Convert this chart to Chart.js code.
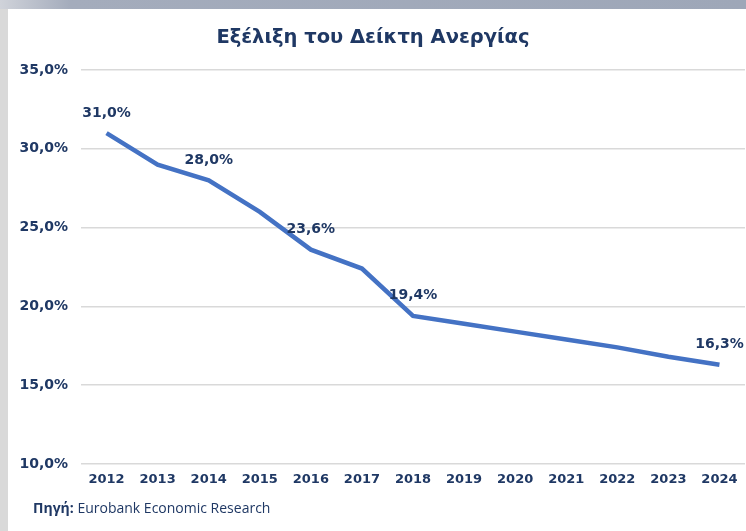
<!DOCTYPE html>
<html>
<head>
<meta charset="utf-8">
<script src="https://cdn.jsdelivr.net/npm/chart.js@4"></script>
<style>
  html, body { margin: 0; padding: 0; background: #fff; }
  #page { position: relative; width: 746px; height: 531px; overflow: hidden; background: #fff; }
  #topbar { position: absolute; left: 0; top: 0; width: 746px; height: 9px;
    background: linear-gradient(to right, #d0d3da 0px, #a4acbc 70px, #9ea7b8 746px); }
  #leftbar { position: absolute; left: 0; top: 9px; width: 8px; height: 522px; background: #d9d9d9; }
  #title { position: absolute; left: 0; top: 25px; width: 746px; text-align: center;
    font: bold 19.5px "DejaVu Sans", sans-serif; color: #1f3864; }
  #wrap { position: absolute; left: 0; top: 0; width: 746px; height: 531px; }
  #source { position: absolute; left: 33px; top: 498px; font: 14px "Open Sans", sans-serif; color: #1f3864; }
  #source b { font-weight: bold; }
</style>
</head>
<body>
<div id="page">
  <div id="topbar"></div>
  <div id="leftbar"></div>
  <div id="wrap"><canvas id="chart"></canvas></div>
  <div id="title">Εξέλιξη του Δείκτη Ανεργίας</div>
  <div id="source"><b>Πηγή:</b> Eurobank Economic Research</div>
</div>
<script>
const years = ["2012", "2013", "2014", "2015", "2016", "2017", "2018", "2019", "2020", "2021", "2022", "2023", "2024"];
const unemployment = [31.0, 29.0, 28.0, 26.0, 23.6, 22.4, 19.4, 18.9, 18.4, 17.9, 17.4, 16.8, 16.3];
const labelledYears = ["2012", "2014", "2016", "2018", "2024"];
const yTicks = [10, 15, 20, 25, 30, 35];

const navy = "#1f3864";
const fmt = v => v.toFixed(1).replace(".", ",") + "%";

const pointLabels = {
  id: "pointLabels",
  afterDatasetsDraw(chart) {
    const ctx = chart.ctx;
    const meta = chart.getDatasetMeta(0);
    ctx.save();
    ctx.font = "bold 14px 'DejaVu Sans', sans-serif";
    ctx.fillStyle = navy;
    ctx.textAlign = "center";
    ctx.textBaseline = "middle";
    meta.data.forEach((pt, i) => {
      if (!labelledYears.includes(years[i])) return;
      ctx.fillText(fmt(unemployment[i]), pt.x, pt.y - 20);
    });
    ctx.restore();
  }
};

new Chart(document.getElementById("chart"), {
  type: "line",
  data: {
    labels: years,
    datasets: [{
      data: unemployment,
      borderColor: "#4472c4",
      borderWidth: 4.5,
      pointRadius: 0,
      tension: 0,
      fill: false
    }]
  },
  options: {
    responsive: true,
    maintainAspectRatio: false,
    animation: false,
    layout: { padding: { left: 10, right: 1, top: 70, bottom: 37 } },
    plugins: { legend: { display: false }, tooltip: { enabled: false }, title: { display: false } },
    scales: {
      x: {
        offset: true,
        grid: { display: false, drawTicks: false },
        border: { display: false },
        ticks: { color: navy, font: { family: "DejaVu Sans", size: 13, weight: "bold" }, padding: 8, maxRotation: 0 },
        afterFit: s => { s.height = 30; }
      },
      y: {
        min: 10,
        max: 35,
        afterBuildTicks: s => { s.ticks = yTicks.map(v => ({ value: v })); },
        grid: { color: "#d9d9d9", lineWidth: 1.5, drawTicks: false },
        border: { display: false },
        ticks: { color: navy, font: { family: "DejaVu Sans", size: 14, weight: "bold" }, padding: 13, callback: v => fmt(v) },
        afterFit: s => { s.width = 71; }
      }
    }
  },
  plugins: [pointLabels]
});
</script>
</body>
</html>
